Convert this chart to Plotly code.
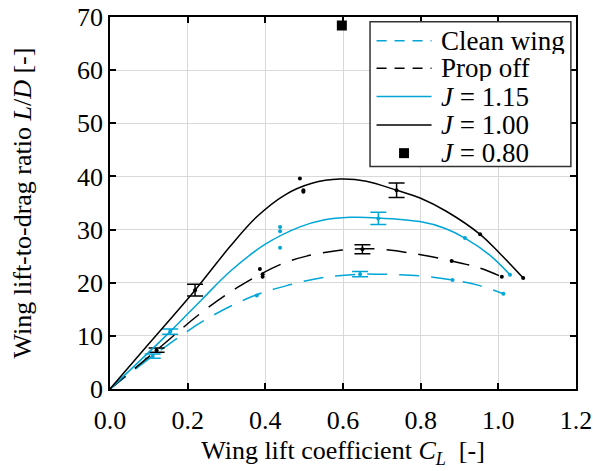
import plotly.graph_objects as go

CYAN = "#00A6D6"
BLACK = "#000000"
FONT = "Liberation Serif"

# ---- data ----
series_names = ["Clean wing", "Prop off", "<i>J</i> = 1.15", "<i>J</i> = 1.00", "<i>J</i> = 0.80"]

# fitted curves
clean_fit_cl = [0, 0.11, 0.245, 0.369, 0.463, 0.549, 0.644, 0.695, 0.798, 0.882, 0.95, 1.013]
clean_fit_ld = [0, 6.2, 13.0, 17.5, 19.6, 21.0, 21.6, 21.6, 21.3, 20.5, 19.5, 17.9]
propoff_fit_cl = [0, 0.12, 0.236, 0.335, 0.438, 0.506, 0.592, 0.65, 0.695, 0.781, 0.88, 0.95, 1.009]
propoff_fit_ld = [0, 7.3, 14.4, 19.4, 23.4, 25.0, 26.1, 26.4, 26.3, 25.5, 24.1, 22.8, 21.1]
j115_fit_cl = [0, 0.155, 0.236, 0.309, 0.399, 0.489, 0.55, 0.618, 0.69, 0.798, 0.86, 0.914, 0.978, 1.030]
j115_fit_ld = [0, 10.8, 16.8, 22.1, 27.2, 30.5, 31.8, 32.3, 32.2, 31.5, 30.3, 28.4, 25.2, 21.5]
j100_fit_cl = [0, 0.10, 0.219, 0.309, 0.378, 0.45, 0.52, 0.592, 0.66, 0.738, 0.80, 0.867, 0.953, 1.004, 1.064]
j100_fit_ld = [0, 8.5, 18.6, 26.8, 32.4, 36.5, 38.7, 39.5, 39.1, 37.4, 35.9, 33.4, 29.1, 25.5, 20.9]

# measured points
clean_pts_cl = [0.378, 0.882, 1.013]
clean_pts_ld = [17.6, 20.5, 17.9]
propoff_pts_cl = [0.386, 0.393, 0.393, 0.880, 1.009]
propoff_pts_ld = [22.6, 21.6, 21.1, 24.1, 21.1]
j115_pts_cl = [0.438, 0.438, 0.438, 0.914, 1.030]
j115_pts_ld = [30.5, 29.7, 26.6, 28.4, 21.5]
j100_pts_cl = [0.489, 0.498, 0.498, 0.953, 1.064]
j100_pts_ld = [39.6, 37.4, 37.1, 29.1, 20.9]
j080_pts_cl = [0.597]
j080_pts_ld = [68.4]

# points with error bars
clean_err_cl = [0.11, 0.644]
clean_err_ld = [6.2, 21.6]
clean_err = [0.4, 0.5]
propoff_err_cl = [0.12, 0.65]
propoff_err_ld = [7.3, 26.3]
propoff_err = [0.4, 0.85]
j115_err_cl = [0.155, 0.691]
j115_err_ld = [10.8, 32.1]
j115_err = [0.5, 1.15]
j100_err_cl = [0.219, 0.738]
j100_err_ld = [18.6, 37.4]
j100_err = [1.1, 1.35]

x_ticks = [0.0, 0.2, 0.4, 0.6, 0.8, 1.0, 1.2]
y_ticks = [0, 10, 20, 30, 40, 50, 60, 70]

fig = go.Figure()

groups = [
    (clean_fit_cl, clean_fit_ld, clean_pts_cl, clean_pts_ld, clean_err_cl, clean_err_ld, clean_err, CYAN, "20px,12px"),
    (propoff_fit_cl, propoff_fit_ld, propoff_pts_cl, propoff_pts_ld, propoff_err_cl, propoff_err_ld, propoff_err, BLACK, "20px,12px"),
    (j115_fit_cl, j115_fit_ld, j115_pts_cl, j115_pts_ld, j115_err_cl, j115_err_ld, j115_err, CYAN, "solid"),
    (j100_fit_cl, j100_fit_ld, j100_pts_cl, j100_pts_ld, j100_err_cl, j100_err_ld, j100_err, BLACK, "solid"),
]

for i, (fx, fy, px, py, ex, ey, ee, col, dash) in enumerate(groups):
    fig.add_trace(go.Scatter(x=fx, y=fy, mode="lines", name=series_names[i],
                             line=dict(color=col, width=1.5, dash=dash, shape="spline", smoothing=1.0),
                             showlegend=False, hoverinfo="skip"))
    fig.add_trace(go.Scatter(x=px, y=py, mode="markers", marker=dict(color=col, size=4),
                             showlegend=False, hoverinfo="skip"))
    fig.add_trace(go.Scatter(x=ex, y=ey, mode="markers", marker=dict(color=col, size=4),
                             error_y=dict(type="data", array=ee, visible=True, color=col,
                                          thickness=1.5, width=8),
                             showlegend=False, hoverinfo="skip"))

fig.add_trace(go.Scatter(x=j080_pts_cl, y=j080_pts_ld, mode="markers", name=series_names[4],
                         marker=dict(color=BLACK, size=10, symbol="square"),
                         showlegend=False, hoverinfo="skip"))

# ---- custom legend (paper coordinates) ----
lx0, lx1, ly0, ly1 = 0.558, 0.989, 0.598, 0.987
fig.add_shape(type="rect", xref="paper", yref="paper", x0=lx0, x1=lx1, y0=ly0, y1=ly1,
              line=dict(color="#333333", width=1.5), fillcolor="white", layer="above")
rows = [0.936, 0.862, 0.786, 0.710, 0.634]
styles = [(CYAN, "10px,8px"), (BLACK, "10px,8px"), (CYAN, "solid"), (BLACK, "solid")]
for r, (col, dash) in zip(rows[:4], styles):
    fig.add_shape(type="line", xref="paper", yref="paper", x0=0.572, x1=0.690, y0=r, y1=r,
                  line=dict(color=col, width=1.5, dash=dash), layer="above")
fig.add_shape(type="rect", xref="paper", yref="paper", x0=0.631 - 0.0107, x1=0.631 + 0.0107,
              y0=rows[4] - 0.0134, y1=rows[4] + 0.0134, line=dict(width=0), fillcolor=BLACK, layer="above")
for r, name in zip(rows, series_names):
    fig.add_annotation(xref="paper", yref="paper", x=0.708, y=r, text=name, showarrow=False,
                       xanchor="left", yanchor="middle", height=26, valign="middle", borderpad=0,
                       font=dict(family=FONT, size=27, color="black"))

axis_common = dict(showline=True, linecolor="black", linewidth=1.5, mirror="ticks",
                   ticks="inside", ticklen=6, tickwidth=1.5, tickcolor="black",
                   showgrid=True, gridcolor="#d9d9d9", gridwidth=1, zeroline=False,
                   automargin=False, ticklabeloverflow="allow",
                   tickfont=dict(family=FONT, size=26, color="black"))

fig.update_layout(
    width=593, height=471,
    margin=dict(l=110, r=17, t=17, b=82),
    paper_bgcolor="white", plot_bgcolor="white",
    font=dict(family=FONT, size=26, color="black"),
    showlegend=False,
    xaxis=dict(range=[0, 1.2], tickvals=x_ticks, ticktext=[f"{v:.1f}" for v in x_ticks],
               ticklabelstandoff=7,
               title=dict(text="Wing lift coefficient <i>C<sub>L</sub></i>  [-]",
                          font=dict(family=FONT, size=26), standoff=7),
               **axis_common),
    yaxis=dict(range=[0, 70], tickvals=y_ticks,
               title=dict(text="Wing lift-to-drag ratio <i>L</i>/<i>D</i> [-]",
                          font=dict(family=FONT, size=26), standoff=38),
               **axis_common),
)

fig.write_html("out.html", config={"displayModeBar": False},
               post_script="document.body.style.margin='0';document.body.style.overflow='hidden';")
